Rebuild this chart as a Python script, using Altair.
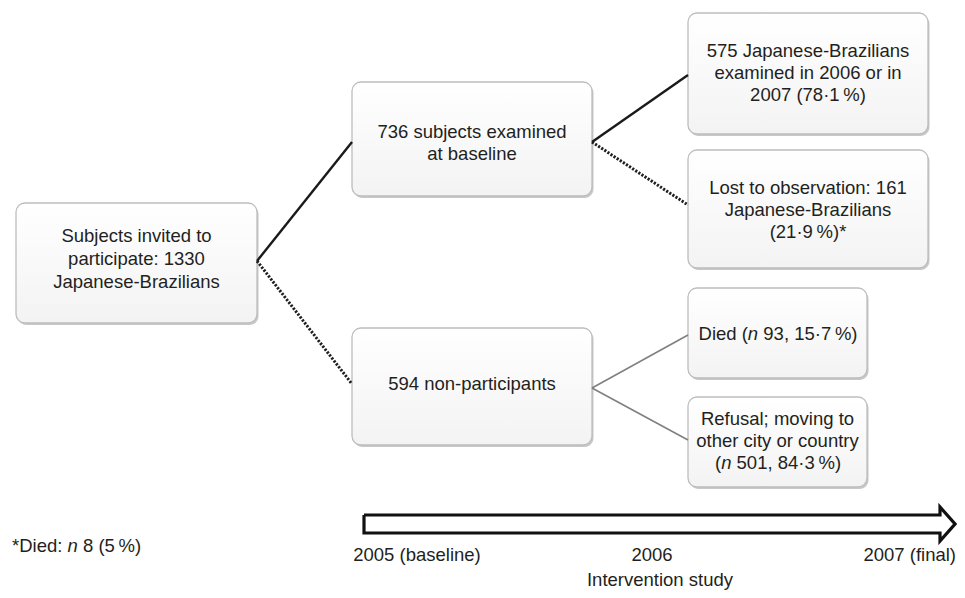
import altair as alt
import pandas as pd

FONT = "Liberation Sans"
FS = 18.5
TXT = "#231f20"

# ---- boxes (layout, page pixels) ----
box_id = ["invited", "baseline", "nonpart", "examined", "lost", "died", "refusal"]
box_left = [16, 352, 352, 688, 688, 688, 688]
box_right = [257, 592, 592, 928, 928, 867, 867]
box_top = [203, 82, 328, 13, 150, 288, 397]
box_bottom = [323, 196, 445, 134, 268, 378, 487]

# ---- plain text lines per box ----
box_lines = {
    "invited": ["Subjects invited to", "participate: 1330", "Japanese-Brazilians"],
    "baseline": ["736 subjects examined", "at baseline"],
    "nonpart": ["594 non-participants"],
    "examined": ["575 Japanese-Brazilians", "examined in 2006 or in", "2007 (78\u00b71\u2009%)"],
    "lost": ["Lost to observation: 161", "Japanese-Brazilians", "(21\u00b79\u2009%)*"],
    "refusal": ["Refusal; moving to", "other city or country"],
}
box_line_y = {
    "invited": [236, 259, 282],
    "baseline": [132, 154],
    "nonpart": [384],
    "examined": [51, 73, 95],
    "lost": [188, 210, 232],
    "refusal": [419, 441],
}

# ---- lines with an italic "n" (before, italic, after; a space separates n and after) ----
mixed_before = ["Died (", "(", "*Died: "]
mixed_italic = ["n", "n", "n"]
mixed_after = ["93, 15\u00b77\u2009%)", "501, 84\u00b73\u2009%)", "8 (5\u2009%)"]
mixed_anchor = ["died", "refusal", None]
mixed_y = [334, 463, 546]
footnote_x = 12

# ---- connectors ----
conn_x = [257, 257, 592, 592, 592, 592]
conn_y = [261, 261, 142, 142, 388, 388]
conn_x2 = [352, 352, 688, 688, 688, 688]
conn_y2 = [142, 384, 75, 205, 335, 440]
conn_kind = ["solid", "dotted", "solid", "dotted", "thin", "thin"]

# ---- timeline arrow outline ----
arrow_x = [364, 940, 940, 955, 940, 940, 364, 364]
arrow_y = [515, 515, 507, 524, 541, 533, 533, 515]

# ---- timeline labels ----
time_labels = ["2005 (baseline)", "2006", "Intervention study"]
time_x = [417, 652, 660]
time_y = [555, 555, 580]
final_label = "2007 (final)"
final_right = 956

# Arial / Liberation Sans advance widths (per 1000 em)
W = {' ': 278, '\u2009': 200, '(': 333, ')': 333, ',': 278, '.': 278, '\u00b7': 278,
     '%': 889, '*': 389, ':': 278, 'D': 722, 'i': 222, 'e': 556, 'd': 556, 'n': 556}


def tw(s):
    return sum(W.get(c, 556) for c in s) * FS / 1000.0


boxes = pd.DataFrame({"id": box_id, "x": box_left, "x2": box_right,
                      "y": box_top, "y2": box_bottom})

rows = []
for i, b in enumerate(box_id):
    if b not in box_lines:
        continue
    cx = (box_left[i] + box_right[i]) / 2
    for t, yy in zip(box_lines[b], box_line_y[b]):
        rows.append({"x": cx, "y": yy, "text": t})
for t, xx, yy in zip(time_labels, time_x, time_y):
    rows.append({"x": xx, "y": yy, "text": t})
center_text = pd.DataFrame(rows)
right_text = pd.DataFrame({"x": [final_right], "y": [time_y[0]], "text": [final_label]})

norm_rows, ital_rows = [], []
for a, n, c, anc, yy in zip(mixed_before, mixed_italic, mixed_after, mixed_anchor, mixed_y):
    total = tw(a) + tw(n) + tw(" ") + tw(c)
    if anc is None:
        start = footnote_x
    else:
        i = box_id.index(anc)
        start = (box_left[i] + box_right[i]) / 2 - total / 2
    norm_rows.append({"x": start, "y": yy, "text": a.rstrip()})
    ital_rows.append({"x": start + tw(a), "y": yy, "text": n})
    norm_rows.append({"x": start + tw(a) + tw(n) + tw(" "), "y": yy, "text": c})
left_text = pd.DataFrame(norm_rows)
ital_text = pd.DataFrame(ital_rows)

conns = pd.DataFrame({"x": conn_x, "y": conn_y, "x2": conn_x2, "y2": conn_y2, "kind": conn_kind})
arrow = pd.DataFrame({"x": arrow_x, "y": arrow_y, "o": list(range(len(arrow_x)))})

xs = alt.Scale(domain=[8, 957], nice=False, zero=False)
ys = alt.Scale(domain=[8, 590], nice=False, zero=False, reverse=True)
X = alt.X("x:Q", scale=xs, axis=None)
Y = alt.Y("y:Q", scale=ys, axis=None)

grad = alt.Gradient(gradient="linear",
                    stops=[alt.GradientStop(color="#ffffff", offset=0),
                           alt.GradientStop(color="#f3f3f3", offset=1)],
                    x1=0, x2=0, y1=0, y2=1)

shadow = alt.Chart(boxes).mark_rect(fill="#9a9a9a", opacity=0.55, cornerRadius=9,
                                    xOffset=1.5, x2Offset=1.5, yOffset=2, y2Offset=2).encode(
    x=X, x2="x2:Q", y=Y, y2="y2:Q")
rects = alt.Chart(boxes).mark_rect(fill=grad, stroke="#bdbdbd", strokeWidth=1.3,
                                   cornerRadius=9).encode(x=X, x2="x2:Q", y=Y, y2="y2:Q")

solid = alt.Chart(conns).transform_filter(alt.datum.kind == "solid").mark_rule(
    color="#1a1a1a", strokeWidth=2.4).encode(x=X, y=Y, x2="x2:Q", y2="y2:Q")
dotted = alt.Chart(conns).transform_filter(alt.datum.kind == "dotted").mark_rule(
    color="#1f1f1f", strokeWidth=3, strokeDash=[2.2, 1.5]).encode(x=X, y=Y, x2="x2:Q", y2="y2:Q")
thin = alt.Chart(conns).transform_filter(alt.datum.kind == "thin").mark_rule(
    color="#808080", strokeWidth=1.6).encode(x=X, y=Y, x2="x2:Q", y2="y2:Q")

arrow_line = alt.Chart(arrow).mark_line(color="#111111", strokeWidth=3.2,
                                        strokeJoin="miter", strokeMiterLimit=10).encode(
    x=X, y=Y, order="o:Q")

t_center = alt.Chart(center_text).mark_text(font=FONT, fontSize=FS, color=TXT,
                                            align="center", baseline="middle").encode(
    x=X, y=Y, text="text:N")
t_right = alt.Chart(right_text).mark_text(font=FONT, fontSize=FS, color=TXT,
                                          align="right", baseline="middle").encode(
    x=X, y=Y, text="text:N")
t_left = alt.Chart(left_text).mark_text(font=FONT, fontSize=FS, color=TXT,
                                        align="left", baseline="middle").encode(
    x=X, y=Y, text="text:N")
t_ital = alt.Chart(ital_text).mark_text(font=FONT, fontSize=FS, color=TXT, fontStyle="italic",
                                        align="left", baseline="middle").encode(
    x=X, y=Y, text="text:N")

chart = alt.layer(shadow, rects, solid, dotted, thin, arrow_line,
                  t_center, t_right, t_left, t_ital).properties(
    width=949, height=582, padding=0, background="white",
    autosize=alt.AutoSizeParams(type="none")
).configure_view(stroke=None)

chart.save("out.html", embed_options={"renderer": "svg", "actions": False})
